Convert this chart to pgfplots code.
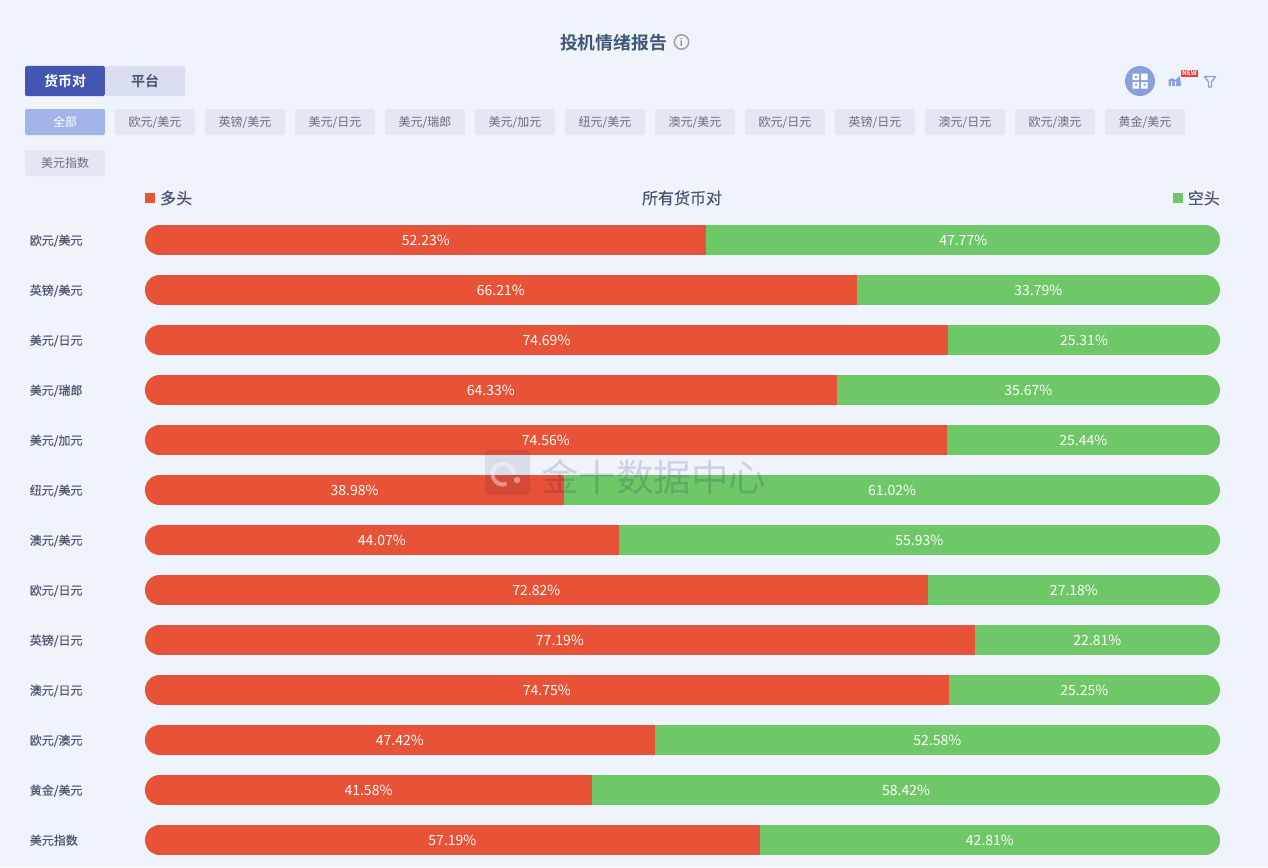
\documentclass[border=0pt]{standalone}
\usepackage{pgfplots}
\pgfplotsset{compat=1.18}
\usepackage{fontspec}
\setmainfont{Noto Sans CJK SC}[BoldFont={* Bold}]
\newfontfamily\med{Noto Sans CJK SC}[FakeBold=0.35]
\definecolor{bg}{HTML}{EFF3FB}
\definecolor{longc}{HTML}{E85236}
\definecolor{shortc}{HTML}{6FC867}
\definecolor{tabdark}{HTML}{4555B2}
\definecolor{tablight}{HTML}{D8DDF0}
\definecolor{pillon}{HTML}{A3B5E8}
\definecolor{pill}{HTML}{E4E7F1}
\definecolor{txt}{HTML}{4B5570}
\definecolor{ttl}{HTML}{3F5878}
\definecolor{ico}{HTML}{8AA0DC}
\newcommand{\fs}[1]{\fontsize{#1}{#1}\selectfont}
\newcommand{\Pill}[3]{%
  \fill[pill,rounded corners=2] (#1,#2) rectangle ++(80,26);
  \node[text=txt!85,font=\fs{12},text height=10pt,text depth=2pt,inner ysep=0pt] at (#1+40,#2+13) {#3};}
\newcommand{\Row}[3]{%
  \addplot[shortc,line width=30pt,line cap=round] coordinates {(1.395,#1)(98.605,#1)};
  \addplot[longc,line width=30pt,line cap=round] coordinates {(1.395,#1)(2,#1)};
  \addplot[longc,line width=30pt,line cap=butt] coordinates {(1.395,#1)(#2,#1)};
  \addplot[draw=none] coordinates {(0,#1)(#2,#1)} node[pos=0.5,text=white,font=\fs{14}] {#2\%};
  \addplot[draw=none] coordinates {(#2,#1)(100,#1)} node[pos=0.5,text=white,font=\fs{14}] {#3\%};
}
\begin{document}
\begin{tikzpicture}
\fill[bg] (0,0) rectangle (1268pt,-867pt);
\begin{axis}[
  at={(145pt,-855pt)},anchor=south west,
  scale only axis,width=1075pt,height=630pt,
  xmin=0,xmax=100,ymin=-0.3,ymax=12.3,y dir=reverse,
  clip=false,axis line style={draw=none},
  xtick=\empty,ytick={0,...,12},major tick length=0pt,
  tick style={draw=none},
  yticklabels={欧元/美元,英镑/美元,美元/日元,美元/瑞郎,美元/加元,纽元/美元,澳元/美元,欧元/日元,英镑/日元,澳元/日元,欧元/澳元,黄金/美元,美元指数},
  yticklabel style={anchor=east,text width=55pt,align=left,inner sep=0pt,xshift=-60pt,yshift=-0.8pt,
    text height=10pt,text depth=2pt,font=\med\fs{12},text=txt},
]
\Row{0}{52.23}{47.77}
\Row{1}{66.21}{33.79}
\Row{2}{74.69}{25.31}
\Row{3}{64.33}{35.67}
\Row{4}{74.56}{25.44}
\Row{5}{38.98}{61.02}
\Row{6}{44.07}{55.93}
\Row{7}{72.82}{27.18}
\Row{8}{77.19}{22.81}
\Row{9}{74.75}{25.25}
\Row{10}{47.42}{52.58}
\Row{11}{41.58}{58.42}
\Row{12}{57.19}{42.81}
\end{axis}
\begin{scope}[x=1pt,y=-1pt]
% title
\node[text=ttl,font=\fs{17.8}\bfseries] at (613.5,43) {投机情绪报告};
\draw[gray!75,line width=1.5pt] (681.5,42) circle (7.2);
\node[gray!85,font=\fs{10}\bfseries] at (681.5,42) {i};
% tabs
\fill[tabdark,rounded corners=2] (25,66) -- (105,66) -- (105,96) -- (25,96) -- cycle;
\fill[tablight,rounded corners=2] (105,66) -- (185,66) -- (185,96) -- (105,96) -- cycle;
\node[text=white,font=\fs{14}\bfseries] at (65,81) {货币对};
\node[text=txt,font=\fs{14}\bfseries] at (145,81) {平台};
% pills
\fill[pillon,rounded corners=2] (25,109) rectangle ++(80,26);
\node[text=white,font=\fs{12},text height=10pt,text depth=2pt,inner ysep=0pt] at (65,122) {全部};
\Pill{115}{109}{欧元/美元}
\Pill{205}{109}{英镑/美元}
\Pill{295}{109}{美元/日元}
\Pill{385}{109}{美元/瑞郎}
\Pill{475}{109}{美元/加元}
\Pill{565}{109}{纽元/美元}
\Pill{655}{109}{澳元/美元}
\Pill{745}{109}{欧元/日元}
\Pill{835}{109}{英镑/日元}
\Pill{925}{109}{澳元/日元}
\Pill{1015}{109}{欧元/澳元}
\Pill{1105}{109}{黄金/美元}
\Pill{25}{150}{美元指数}
% legend row
\fill[longc] (145,193) rectangle (155,203);
\node[anchor=west,inner sep=0pt,text=txt,font=\med\fs{16}] at (160,198) {多头};
\node[text=txt,font=\med\fs{16}] at (682,198) {所有货币对};
\fill[shortc] (1173,193) rectangle (1183,203);
\node[anchor=east,inner sep=0pt,text=txt,font=\med\fs{16}] at (1220,198) {空头};
% icons
\fill[ico] (1140,81) circle (15);
\fill[white] (1132.5,73.5) rectangle (1139,80) (1141,73.5) rectangle (1147.5,80)
  (1132.5,82) rectangle (1139,88.5) (1141,82) rectangle (1147.5,88.5);
\fill[ico] (1135,76) rectangle (1137,78) (1143.5,83.5) rectangle (1145.5,85.5)
  (1135,83.5) rectangle (1137,85.5);
\fill[ico] (1168.5,86) -- (1168.5,80) -- (1172,78) -- (1175,80) -- (1180,76) -- (1181,86) -- cycle;
\fill[bg] (1171,81) rectangle (1172,86) (1175,81) rectangle (1176,86);
\fill[red!70!pink] (1181,70) rectangle (1198,77);
\node[text=white,font=\fs{6.5}\bfseries] at (1189.5,73.3) {NEW};
\draw[ico,line width=1.4pt,line join=round] (1204.5,76.5) -- (1215.5,76.5) -- (1211.5,82) -- (1211.5,87) -- (1208.5,87) -- (1208.5,82) -- cycle;
% watermark
\fill[black!70!blue,opacity=0.09,rounded corners=5] (485,450) rectangle (530,495);
\draw[white,opacity=0.42,line width=4pt] (506.6,483.9) arc (70:360:10.5);
\fill[white,opacity=0.42] (517,480) circle (3.2);
\node[text=black!60!blue,opacity=0.14,font=\fs{37.5}] at (653.5,477) {金十数据中心};
\end{scope}
\end{tikzpicture}
\end{document}
